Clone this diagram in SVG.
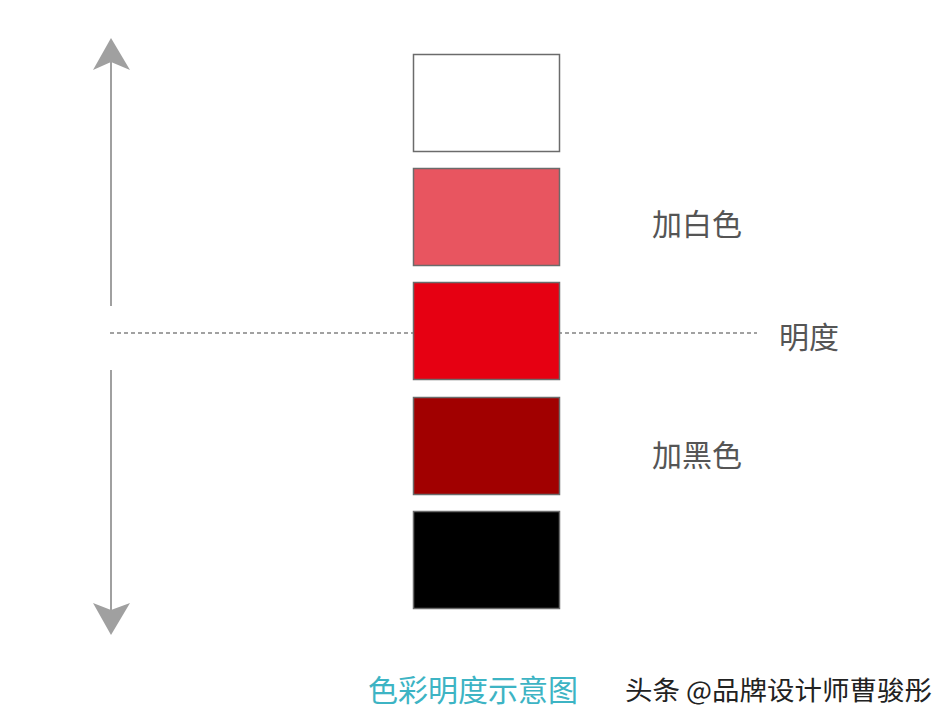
<svg xmlns="http://www.w3.org/2000/svg" width="951" height="724" viewBox="0 0 951 724">
<style>
.sw{stroke:#6b6b6b;stroke-width:1.5}
.lbl{font-family:"Noto Sans CJK SC","Noto Sans",sans-serif;font-size:30px;fill:#555555}
</style>
<rect width="951" height="724" fill="#ffffff"/>
<g id="connectors">
<line x1="111" y1="60" x2="111" y2="306" stroke="#a0a0a0" stroke-width="2"/>
<polygon points="111,38 130,70 111,62 93,70" fill="#a0a0a0"/>
<line x1="111" y1="370" x2="111" y2="610" stroke="#a0a0a0" stroke-width="2"/>
<polygon points="111,635 130,603 111,610 93,603" fill="#a0a0a0"/>
<line x1="110" y1="333" x2="757" y2="333" stroke="#444444" stroke-width="1.2" stroke-dasharray="4,3"/>
</g>
<g id="box-white"><rect x="413.5" y="54.5" width="146" height="97" fill="#ffffff" class="sw"/></g>
<g id="box-light"><rect x="413.5" y="168.5" width="146" height="97" fill="#e85560" class="sw"/></g>
<g id="box-red"><rect x="413.5" y="282.5" width="146" height="97" fill="#e60012" class="sw"/></g>
<g id="box-dark"><rect x="413.5" y="397.5" width="146" height="97" fill="#a10000" class="sw"/></g>
<g id="box-black"><rect x="413.5" y="511.5" width="146" height="97" fill="#000000" class="sw"/></g>
<g id="label-white"><text x="652" y="235" class="lbl">加白色</text></g>
<g id="label-brightness"><text x="779" y="348" class="lbl">明度</text></g>
<g id="label-black"><text x="652" y="466" class="lbl">加黑色</text></g>
<g id="caption"><text x="368" y="701" font-family="'Noto Sans CJK SC','Noto Sans',sans-serif" font-size="30" fill="#3db4c4">色彩明度示意图</text></g>
<g id="watermark"><text x="625" y="700" font-family="'Noto Sans CJK SC','Noto Sans',sans-serif" font-size="26" fill="#222222" textLength="307" lengthAdjust="spacingAndGlyphs">头条 @品牌设计师曹骏彤</text></g>
</svg>
